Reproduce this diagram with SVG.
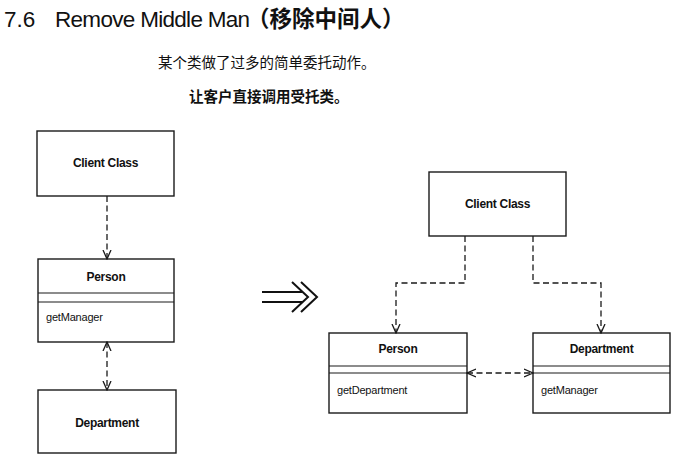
<svg xmlns="http://www.w3.org/2000/svg" width="678" height="464" viewBox="0 0 678 464">
<defs>
<style>
.box{fill:#fff;stroke:#1a1a1a;stroke-width:1.4}
.sep{stroke:#1a1a1a;stroke-width:1.2}
.name{font-family:"Liberation Sans",Arial,sans-serif;font-weight:bold;font-size:12px;fill:#111;text-anchor:middle;letter-spacing:-0.3px}
.op{font-family:"Liberation Sans",Arial,sans-serif;font-size:11px;fill:#111;letter-spacing:-0.2px}
.dep{fill:none;stroke:#1a1a1a;stroke-width:1.3;stroke-dasharray:6 3.5}
.title{font-family:"Liberation Sans","Noto Sans CJK SC",Arial,sans-serif;font-size:22.5px;fill:#111}
.sub{font-family:"Noto Sans CJK SC","Liberation Serif",serif;font-size:14.5px;fill:#111}
</style>
<marker id="open" viewBox="0 0 10 10" refX="9" refY="5" markerWidth="10" markerHeight="10" markerUnits="userSpaceOnUse" orient="auto-start-reverse">
<path d="M0,1 L9,5 L0,9" fill="none" stroke="#1a1a1a" stroke-width="1.3"/>
</marker>
</defs>
<rect width="678" height="464" fill="#fff"/>
<g id="title">
<text class="title" x="4" y="27">7.6</text>
<text class="title" x="55" y="27" letter-spacing="-0.7">Remove Middle Man</text>
<text class="title" x="247" y="27" font-weight="bold" font-family="'Noto Sans CJK SC',sans-serif" font-size="22">（移除中间人）</text>
<text class="sub" x="158" y="68">某个类做了过多的简单委托动作。</text>
<text class="sub" x="189" y="102" font-weight="bold">让客户直接调用受托类。</text>
</g>
<g id="left-client">
<rect class="box" x="37" y="131" width="137" height="65"/>
<text class="name" x="105.5" y="167">Client Class</text>
</g>
<g id="left-person">
<rect class="box" x="38" y="259" width="136" height="83"/>
<line class="sep" x1="38" y1="293" x2="174" y2="293"/>
<line class="sep" x1="38" y1="302" x2="174" y2="302"/>
<text class="name" x="106" y="281">Person</text>
<text class="op" x="46" y="321">getManager</text>
</g>
<g id="left-department">
<rect class="box" x="38" y="390" width="138" height="63"/>
<text class="name" x="107" y="427">Department</text>
</g>
<g id="right-client">
<rect class="box" x="429" y="172" width="137" height="64"/>
<text class="name" x="497.5" y="208">Client Class</text>
</g>
<g id="right-person">
<rect class="box" x="329" y="333" width="138" height="80"/>
<line class="sep" x1="329" y1="366" x2="467" y2="366"/>
<line class="sep" x1="329" y1="373" x2="467" y2="373"/>
<text class="name" x="398" y="353">Person</text>
<text class="op" x="337" y="394">getDepartment</text>
</g>
<g id="right-department">
<rect class="box" x="533" y="333" width="137" height="80"/>
<line class="sep" x1="533" y1="366" x2="670" y2="366"/>
<line class="sep" x1="533" y1="373" x2="670" y2="373"/>
<text class="name" x="601.5" y="353">Department</text>
<text class="op" x="541" y="394">getManager</text>
</g>
<g id="connectors">
<line class="dep" x1="107" y1="196" x2="107" y2="259" marker-end="url(#open)"/>
<line class="dep" x1="107" y1="342" x2="107" y2="390" marker-start="url(#open)" marker-end="url(#open)"/>
<polyline class="dep" points="465,236 465,283 396,283 396,333" marker-end="url(#open)"/>
<polyline class="dep" points="533,236 533,283 601,283 601,333" marker-end="url(#open)"/>
<line class="dep" x1="467" y1="373" x2="533" y2="373" marker-start="url(#open)" marker-end="url(#open)"/>
</g>
<g id="transform-arrow" fill="none" stroke="#111" stroke-width="2">
<line x1="262" y1="292" x2="302" y2="292"/>
<line x1="262" y1="302" x2="302" y2="302"/>
<polyline points="292,282 308,297 292,312"/>
<polyline points="301,282 317,297 301,312"/>
</g>
</svg>
